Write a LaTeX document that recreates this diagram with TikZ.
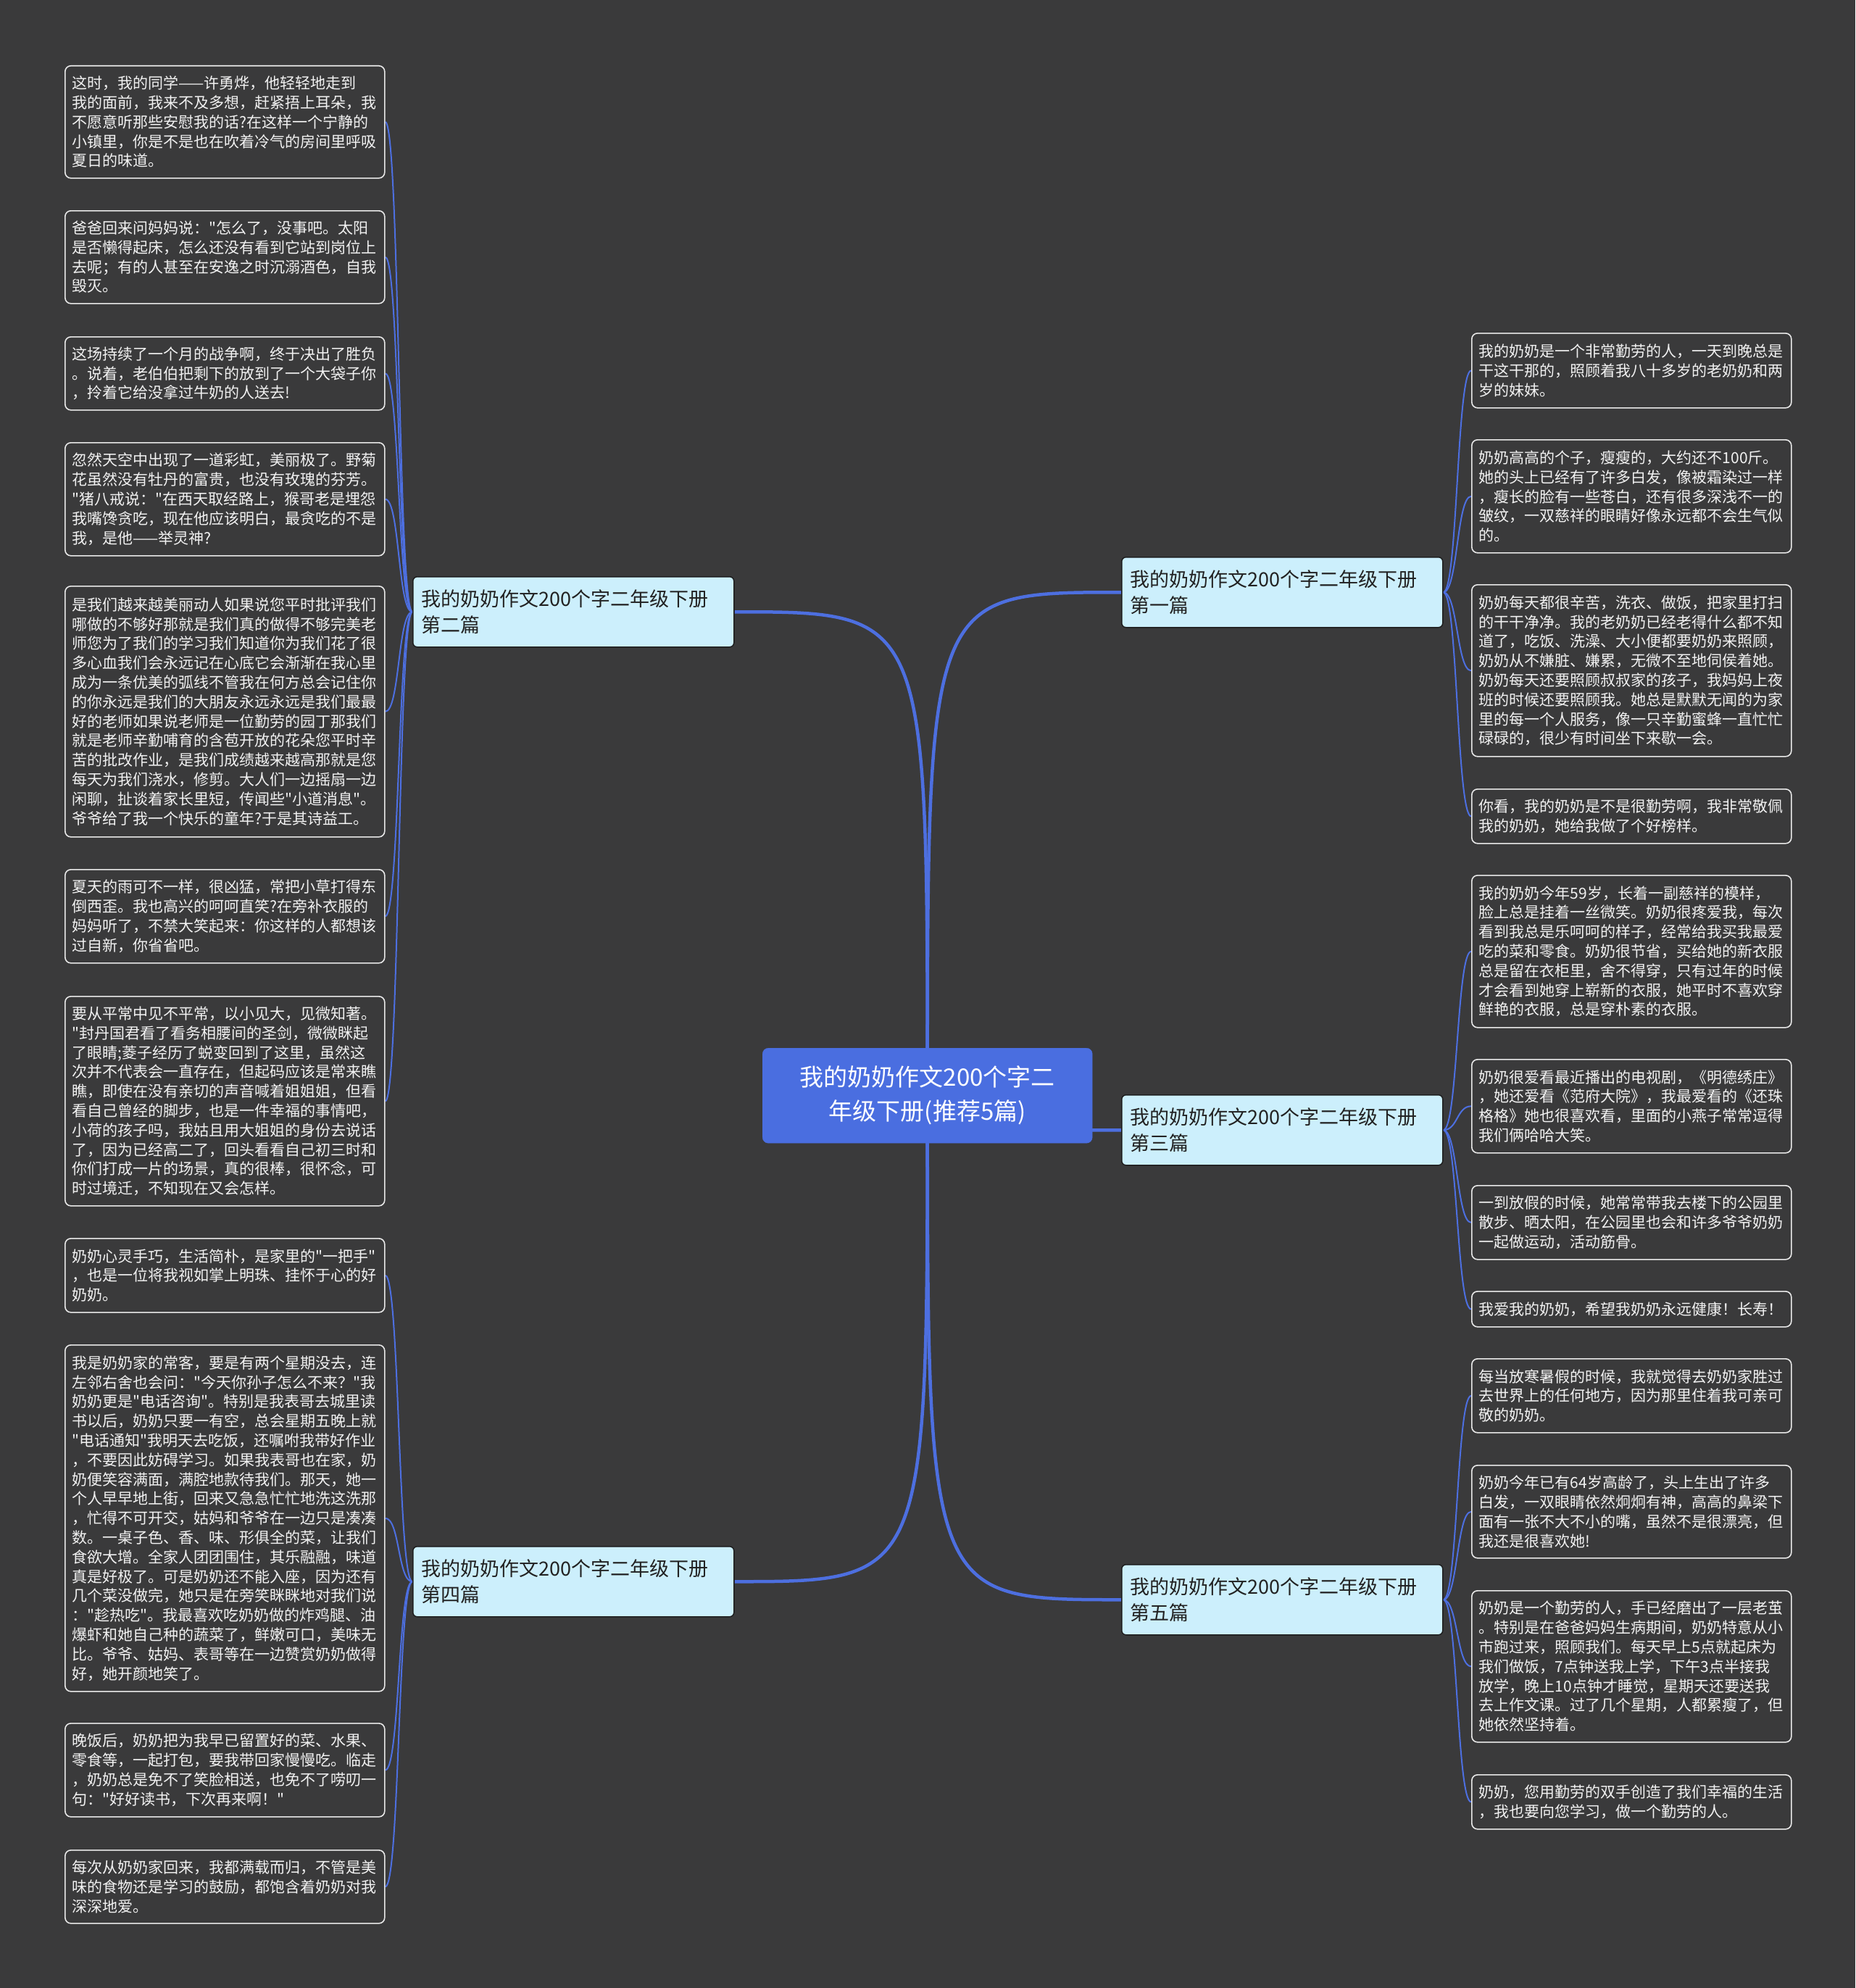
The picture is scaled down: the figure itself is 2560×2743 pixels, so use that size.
\documentclass[tikz,border=0pt]{standalone}
\usepackage{fontspec}
\newfontfamily\cjkfont{Noto Sans CJK SC}
\definecolor{bgc}{HTML}{3A3A3B}
\definecolor{linec}{HTML}{4D6FE0}
\definecolor{rootc}{HTML}{4A6EE0}
\definecolor{branchc}{HTML}{CCEFFC}
\definecolor{branchborder}{HTML}{1E1E1E}
\definecolor{branchtext}{HTML}{222222}
\definecolor{leaftext}{HTML}{F2F2F2}
\definecolor{leafborder}{HTML}{E8E8E8}
\pgfdeclarelayer{bg}
\pgfdeclarelayer{lines}
\pgfsetlayers{bg,lines,main}
\tikzset{
  leaf/.style={draw=leafborder, line width=1.6pt, fill=bgc, rounded corners=8pt,
    text=leaftext, font=\cjkfont\fontsize{21}{26.8}\selectfont, text width=421pt,
    inner xsep=10pt, inner ysep=0pt, align=left, anchor=north west},
  branchbox/.style={fill=branchc, draw=branchborder, line width=1.5pt, rounded corners=6pt,
    text=branchtext, font=\cjkfont\fontsize{27}{36.75}\selectfont, text width=419pt,
    inner xsep=12pt, inner ysep=0pt, align=left, anchor=north west, minimum height=97pt},
  rootbox/.style={fill=rootc, draw=rootc, rounded corners=8pt, text=white,
    font=\cjkfont\fontsize{33}{47}\selectfont, minimum width=455pt, minimum height=131pt,
    align=center, anchor=north west, inner sep=0pt},
  mainline/.style={draw=linec, line width=4.5pt},
  leafline/.style={draw=linec, line width=2pt},
}
\begin{document}
\begin{tikzpicture}[x=1pt,y=-1pt]
\useasboundingbox (0,0) rectangle (2560,2743);
\begin{pgfonlayer}{bg}
\fill[bgc] (0,0) rectangle (2560,2743);
\end{pgfonlayer}

% root
\node[rootbox] (root) at (1052,1446) {我的奶奶作文200个字二\\年级下册(推荐5篇)};

% branches
\node[branchbox] (b1) at (1547,768) {我的奶奶作文200个字二年级下册\\第一篇};
\node[branchbox] (b2) at (569,795) {我的奶奶作文200个字二年级下册\\第二篇};
\node[branchbox] (b3) at (1547,1510) {我的奶奶作文200个字二年级下册\\第三篇};
\node[branchbox] (b4) at (569,2133) {我的奶奶作文200个字二年级下册\\第四篇};
\node[branchbox] (b5) at (1547,2158) {我的奶奶作文200个字二年级下册\\第五篇};

% left leaves (第二篇)
\node[leaf, minimum height=155pt] (l1) at (89,90) {这时，我的同学——许勇烨，他轻轻地走到\\我的面前，我来不及多想，赶紧捂上耳朵，我\\不愿意听那些安慰我的话?在这样一个宁静的\\小镇里，你是不是也在吹着冷气的房间里呼吸\\夏日的味道。};
\node[leaf, minimum height=128pt] (l2) at (89,290) {爸爸回来问妈妈说："怎么了，没事吧。太阳\\是否懒得起床，怎么还没有看到它站到岗位上\\去呢；有的人甚至在安逸之时沉溺酒色，自我\\毁灭。};
\node[leaf, minimum height=101pt] (l3) at (89,464) {这场持续了一个月的战争啊，终于决出了胜负\\。说着，老伯伯把剩下的放到了一个大袋子你\\，拎着它给没拿过牛奶的人送去!};
\node[leaf, minimum height=156pt] (l4) at (89,610) {忽然天空中出现了一道彩虹，美丽极了。野菊\\花虽然没有牡丹的富贵，也没有玫瑰的芬芳。\\"猪八戒说："在西天取经路上，猴哥老是埋怨\\我嘴馋贪吃，现在他应该明白，最贪吃的不是\\我，是他——举灵神?};
\node[leaf, minimum height=346pt] (l5) at (89,808) {是我们越来越美丽动人如果说您平时批评我们\\哪做的不够好那就是我们真的做得不够完美老\\师您为了我们的学习我们知道你为我们花了很\\多心血我们会永远记在心底它会渐渐在我心里\\成为一条优美的弧线不管我在何方总会记住你\\的你永远是我们的大朋友永远永远是我们最最\\好的老师如果说老师是一位勤劳的园丁那我们\\就是老师辛勤哺育的含苞开放的花朵您平时辛\\苦的批改作业，是我们成绩越来越高那就是您\\每天为我们浇水，修剪。大人们一边摇扇一边\\闲聊，扯谈着家长里短，传闻些"小道消息"。\\爷爷给了我一个快乐的童年?于是其诗益工。};
\node[leaf, minimum height=129pt] (l6) at (89,1199) {夏天的雨可不一样，很凶猛，常把小草打得东\\倒西歪。我也高兴的呵呵直笑?在旁补衣服的\\妈妈听了，不禁大笑起来：你这样的人都想该\\过自新，你省省吧。};
\node[leaf, minimum height=289pt] (l7) at (89,1374) {要从平常中见不平常，以小见大，见微知著。\\"封丹国君看了看务相腰间的圣剑，微微眯起\\了眼睛;菱子经历了蜕变回到了这里，虽然这\\次并不代表会一直存在，但起码应该是常来瞧\\瞧，即使在没有亲切的声音喊着姐姐姐，但看\\看自己曾经的脚步，也是一件幸福的事情吧，\\小荷的孩子吗，我姑且用大姐姐的身份去说话\\了，因为已经高二了，回头看看自己初三时和\\你们打成一片的场景，真的很棒，很怀念，可\\时过境迁，不知现在又会怎样。};

% left leaves (第四篇)
\node[leaf, minimum height=102pt] (l8) at (89,1708) {奶奶心灵手巧，生活简朴，是家里的"一把手"\\，也是一位将我视如掌上明珠、挂怀于心的好\\奶奶。};
\node[leaf, minimum height=478pt] (l9) at (89,1855) {我是奶奶家的常客，要是有两个星期没去，连\\左邻右舍也会问："今天你孙子怎么不来？"我\\奶奶更是"电话咨询"。特别是我表哥去城里读\\书以后，奶奶只要一有空，总会星期五晚上就\\"电话通知"我明天去吃饭，还嘱咐我带好作业\\，不要因此妨碍学习。如果我表哥也在家，奶\\奶便笑容满面，满腔地款待我们。那天，她一\\个人早早地上街，回来又急急忙忙地洗这洗那\\，忙得不可开交，姑妈和爷爷在一边只是凑凑\\数。一桌子色、香、味、形俱全的菜，让我们\\食欲大增。全家人团团围住，其乐融融，味道\\真是好极了。可是奶奶还不能入座，因为还有\\几个菜没做完，她只是在旁笑眯眯地对我们说\\："趁热吃"。我最喜欢吃奶奶做的炸鸡腿、油\\爆虾和她自己种的蔬菜了，鲜嫩可口，美味无\\比。爷爷、姑妈、表哥等在一边赞赏奶奶做得\\好，她开颜地笑了。};
\node[leaf, minimum height=129pt] (l10) at (89,2377) {晚饭后，奶奶把为我早已留置好的菜、水果、\\零食等，一起打包，要我带回家慢慢吃。临走\\，奶奶总是免不了笑脸相送，也免不了唠叨一\\句："好好读书，下次再来啊！"};
\node[leaf, minimum height=101pt] (l11) at (89,2552) {每次从奶奶家回来，我都满载而归，不管是美\\味的食物还是学习的鼓励，都饱含着奶奶对我\\深深地爱。};

% right leaves (第一篇)
\node[leaf, minimum height=103pt] (r1) at (2030,459) {我的奶奶是一个非常勤劳的人，一天到晚总是\\干这干那的，照顾着我八十多岁的老奶奶和两\\岁的妹妹。};
\node[leaf, minimum height=156pt] (r2) at (2030,606) {奶奶高高的个子，瘦瘦的，大约还不100斤。\\她的头上已经有了许多白发，像被霜染过一样\\，瘦长的脸有一些苍白，还有很多深浅不一的\\皱纹，一双慈祥的眼睛好像永远都不会生气似\\的。};
\node[leaf, minimum height=237pt] (r3) at (2030,806) {奶奶每天都很辛苦，洗衣、做饭，把家里打扫\\的干干净净。我的老奶奶已经老得什么都不知\\道了，吃饭、洗澡、大小便都要奶奶来照顾，\\奶奶从不嫌脏、嫌累，无微不至地伺侯着她。\\奶奶每天还要照顾叔叔家的孩子，我妈妈上夜\\班的时候还要照顾我。她总是默默无闻的为家\\里的每一个人服务，像一只辛勤蜜蜂一直忙忙\\碌碌的，很少有时间坐下来歇一会。};
\node[leaf, minimum height=75pt] (r4) at (2030,1088) {你看，我的奶奶是不是很勤劳啊，我非常敬佩\\我的奶奶，她给我做了个好榜样。};

% right leaves (第三篇)
\node[leaf, minimum height=210pt] (r5) at (2030,1207) {我的奶奶今年59岁，长着一副慈祥的模样，\\脸上总是挂着一丝微笑。奶奶很疼爱我，每次\\看到我总是乐呵呵的样子，经常给我买我最爱\\吃的菜和零食。奶奶很节省，买给她的新衣服\\总是留在衣柜里，舍不得穿，只有过年的时候\\才会看到她穿上崭新的衣服，她平时不喜欢穿\\鲜艳的衣服，总是穿朴素的衣服。};
\node[leaf, minimum height=129pt] (r6) at (2030,1461) {奶奶很爱看最近播出的电视剧，《明德绣庄》\\，她还爱看《范府大院》，我最爱看的《还珠\\格格》她也很喜欢看，里面的小燕子常常逗得\\我们俩哈哈大笑。};
\node[leaf, minimum height=102pt] (r7) at (2030,1635) {一到放假的时候，她常常带我去楼下的公园里\\散步、晒太阳，在公园里也会和许多爷爷奶奶\\一起做运动，活动筋骨。};
\node[leaf, minimum height=49pt] (r8) at (2030,1781) {我爱我的奶奶，希望我奶奶永远健康！长寿！};

% right leaves (第五篇)
\node[leaf, minimum height=102pt] (r9) at (2030,1874) {每当放寒暑假的时候，我就觉得去奶奶家胜过\\去世界上的任何地方，因为那里住着我可亲可\\敬的奶奶。};
\node[leaf, minimum height=128pt] (r10) at (2030,2021) {奶奶今年已有64岁高龄了，头上生出了许多\\白发，一双眼睛依然炯炯有神，高高的鼻梁下\\面有一张不大不小的嘴，虽然不是很漂亮，但\\我还是很喜欢她!};
\node[leaf, minimum height=209pt] (r11) at (2030,2194) {奶奶是一个勤劳的人，手已经磨出了一层老茧\\。特别是在爸爸妈妈生病期间，奶奶特意从小\\市跑过来，照顾我们。每天早上5点就起床为\\我们做饭，7点钟送我上学，下午3点半接我\\放学，晚上10点钟才睡觉，星期天还要送我\\去上作文课。过了几个星期，人都累瘦了，但\\她依然坚持着。};
\node[leaf, minimum height=75pt] (r12) at (2030,2448) {奶奶，您用勤劳的双手创造了我们幸福的生活\\，我也要向您学习，做一个勤劳的人。};

\begin{pgfonlayer}{lines}
% root to branches
\foreach \b in {b2,b4} {
  \draw[mainline] (root.center) .. controls (root.center |- \b.east) .. (\b.east);
}
\foreach \b in {b1,b3,b5} {
  \draw[mainline] (root.center) .. controls (root.center |- \b.west) .. (\b.west);
}
% branches to leaves
\foreach \l in {l1,l2,l3,l4,l5,l6,l7} {
  \draw[leafline] (b2.west) .. controls +(-20,0) and +(20,0) .. (\l.east);
}
\foreach \l in {l8,l9,l10,l11} {
  \draw[leafline] (b4.west) .. controls +(-20,0) and +(20,0) .. (\l.east);
}
\foreach \l in {r1,r2,r3,r4} {
  \draw[leafline] (b1.east) .. controls +(20,0) and +(-20,0) .. (\l.west);
}
\foreach \l in {r5,r6,r7,r8} {
  \draw[leafline] (b3.east) .. controls +(20,0) and +(-20,0) .. (\l.west);
}
\foreach \l in {r9,r10,r11,r12} {
  \draw[leafline] (b5.east) .. controls +(20,0) and +(-20,0) .. (\l.west);
}
\end{pgfonlayer}
\end{tikzpicture}
\end{document}
